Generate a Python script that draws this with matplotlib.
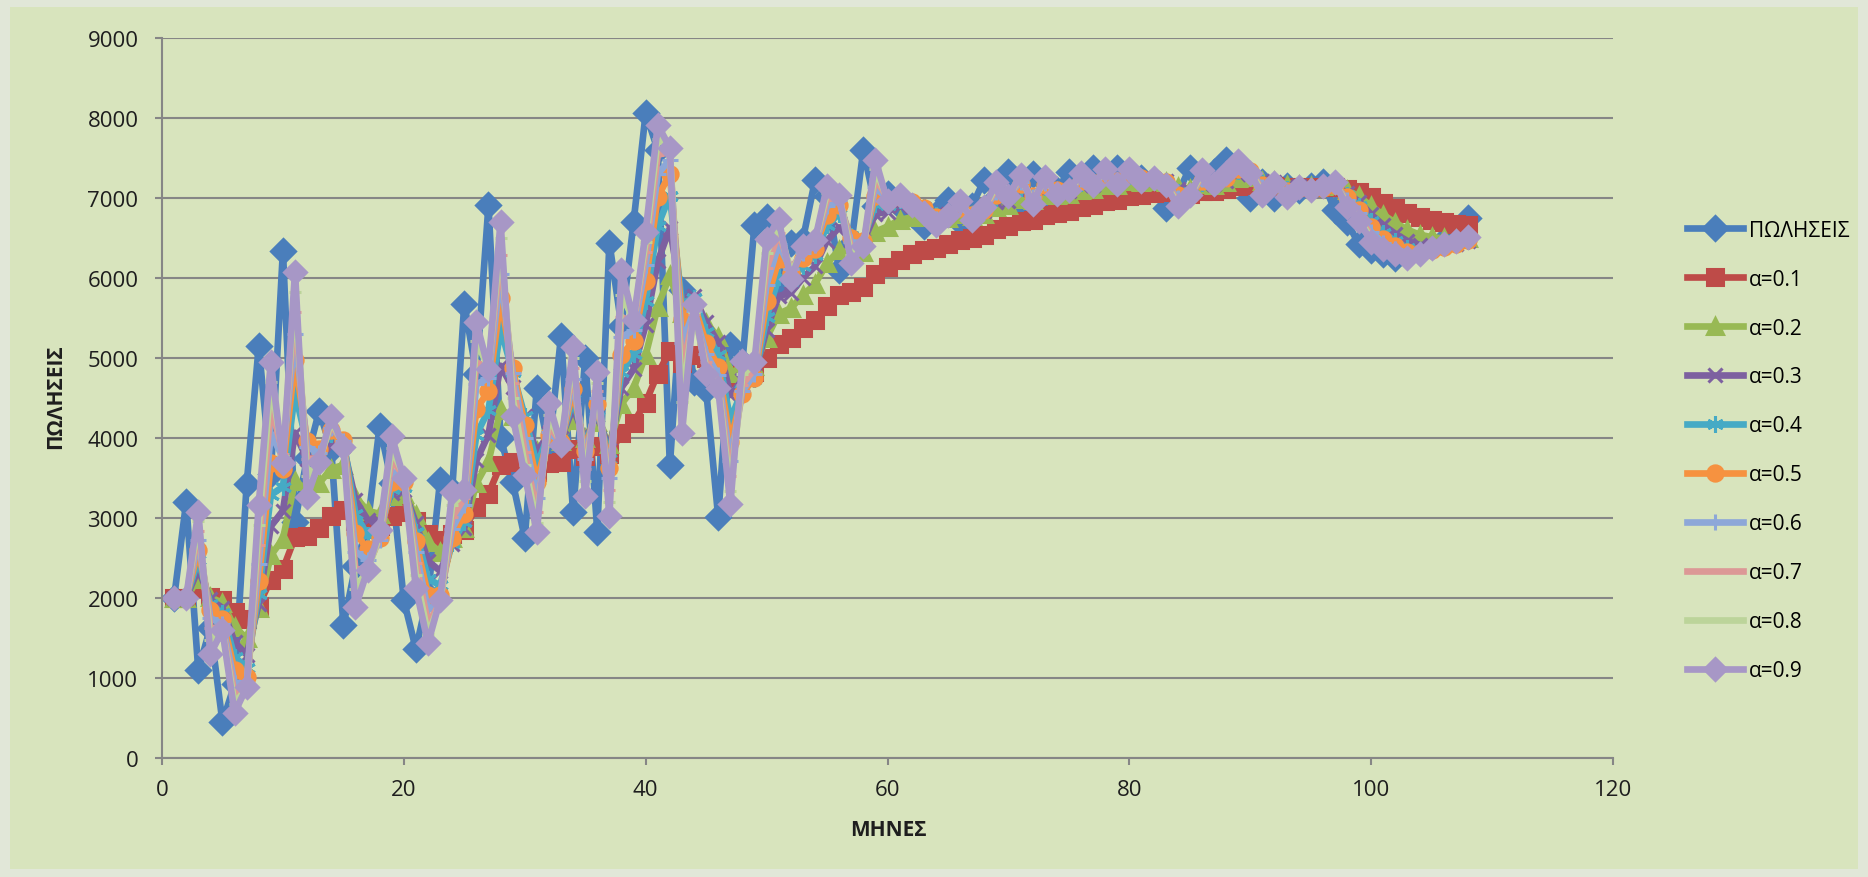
import numpy as np
import matplotlib
matplotlib.use('Agg')
import matplotlib.pyplot as plt
from matplotlib.patches import Rectangle

plt.rcParams['font.family'] = ['Open Sans', 'DejaVu Sans']

# months and sales (ΠΩΛΗΣΕΙΣ)
months = list(range(1, 109))
sales = [2000, 3200, 1100, 1630, 450, 920, 3420, 5150, 3550, 6340,
         2950, 3750, 4340, 3850, 1660, 2400, 2900, 4150, 3440, 1970,
         1360, 2040, 3470, 3350, 5680, 4800, 6910, 4000, 3450, 2750,
         4620, 3850, 5270, 3070, 5000, 2830, 6440, 5400, 6700, 8060,
         7600, 3660, 5850, 4700, 4600, 3010, 5160, 4950, 6660, 6760,
         5900, 6440, 6480, 7220, 7020, 6100, 6420, 7600, 6900, 7050,
         6900, 6800, 6650, 6800, 6980, 6700, 6900, 7230, 7000, 7320,
         6880, 7300, 7030, 7100, 7330, 7150, 7380, 7150, 7380, 7200,
         7250, 7150, 6870, 7050, 7380, 7150, 7330, 7480, 7300, 7000,
         7200, 7000, 7150, 7100, 7150, 7200, 6850, 6700, 6420, 6350,
         6300, 6250, 6300, 6380, 6430, 6470, 6520, 6750]

# smoothing constants of the chart's legend
alphas = [0.1, 0.2, 0.3, 0.4, 0.5, 0.6, 0.7, 0.8, 0.9]

# the α lines are the simple exponential smoothing forecasts of the sales
# F1 = S1, F(t+1) = a*S(t) + (1-a)*F(t)
smooth = {}
for a in alphas:
    f = [sales[0]]
    for t in range(1, len(sales)):
        f.append(a * sales[t - 1] + (1 - a) * f[-1])
    smooth[a] = f

colors = ['#4a7ebb', '#be4b48', '#98b954', '#7d60a0', '#46aac5',
          '#f69240', '#8da7d8', '#dc9896', '#bcd49a', '#a797c6']
labels = ['ΠΩΛΗΣΕΙΣ'] + ['α=%.1f' % a for a in alphas]

fig = plt.figure(figsize=(18.68, 8.78), dpi=100)
fig.patch.set_facecolor('#e1e7d8')
bg = Rectangle((10 / 1868, 8 / 878), 1848 / 1868, 862 / 878,
               transform=fig.transFigure, facecolor='#d8e4bd',
               edgecolor='none', zorder=-10)
fig.add_artist(bg)

ax = fig.add_axes([162 / 1868, 1 - 759 / 878, 1451 / 1868, 720 / 878])
ax.set_facecolor('none')

series = [sales] + [smooth[a] for a in alphas]
markers = ['D', 's', '^', 'x', (6, 2, 0), 'o', '+', '_', '_', 'D']
msizes = [12, 11, 12, 10, 12, 11, 12, 9, 9, 11]
for s, c, m, ms, lab in zip(series, colors, markers, msizes, labels):
    ax.plot(months, s, color=c, lw=4.8, marker=m, markersize=ms,
            markerfacecolor=c, markeredgecolor=c, markeredgewidth=2.2, label=lab)

ax.set_xlim(0, 120)
ax.set_ylim(0, 9000)
ax.set_xticks(range(0, 121, 20))
ax.set_yticks(range(0, 9001, 1000))
ax.grid(axis='y', color='#868686', lw=1.5)
ax.set_axisbelow(True)
for sp in ['top', 'right']:
    ax.spines[sp].set_visible(False)
for sp in ['left', 'bottom']:
    ax.spines[sp].set_color('#868686')
    ax.spines[sp].set_linewidth(1.5)
ax.tick_params(colors='#868686', length=5, width=1.5, labelsize=16,
               labelcolor='#1e1e1e')
ax.tick_params(axis='y', pad=12)
ax.tick_params(axis='x', pad=10)

fig.text(56 / 1868, 1 - 397 / 878, 'ΠΩΛΗΣΕΙΣ', rotation=90, fontsize=15,
         fontweight='bold', ha='center', va='center', color='#1e1e1e')
fig.text(888 / 1868, 1 - 831 / 878, 'ΜΗΝΕΣ', fontsize=15,
         fontweight='bold', ha='center', va='center', color='#1e1e1e')

fig.legend(loc='upper left', bbox_to_anchor=(1668 / 1868, 1 - 202 / 878),
           frameon=False, fontsize=15, handlelength=2.7, handletextpad=0.3,
           labelspacing=1.34)

fig.savefig('out.png', dpi=100, facecolor=fig.get_facecolor())
